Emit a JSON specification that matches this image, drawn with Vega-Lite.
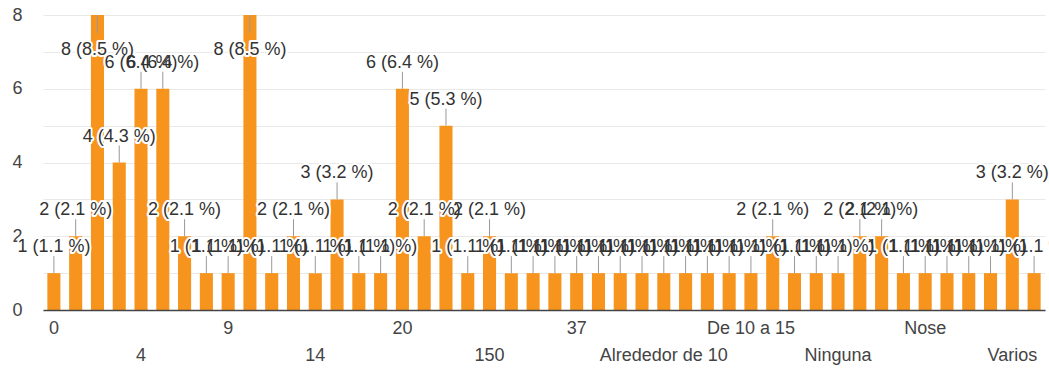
{
  "$schema": "https://vega.github.io/schema/vega-lite/v6.json",
  "autosize": {"type": "none"},
  "width": 1002,
  "height": 295,
  "padding": {"left": 43, "top": 15, "right": 4, "bottom": 60},
  "background": "white",
  "config": {
    "view": {"stroke": null},
    "font": "Liberation Sans"
  },
  "data": {
    "values": [
      {"c": "0", "n": 1}, {"c": "1", "n": 2}, {"c": "2", "n": 8}, {"c": "3", "n": 4},
      {"c": "4", "n": 6}, {"c": "5", "n": 6}, {"c": "6", "n": 2}, {"c": "7", "n": 1},
      {"c": "9", "n": 1}, {"c": "10", "n": 8}, {"c": "11", "n": 1}, {"c": "12", "n": 2},
      {"c": "14", "n": 1}, {"c": "15", "n": 3}, {"c": "16", "n": 1}, {"c": "18", "n": 1},
      {"c": "20", "n": 6}, {"c": "25", "n": 2}, {"c": "30", "n": 5}, {"c": "40", "n": 1},
      {"c": "150", "n": 2}, {"c": "2 o 3", "n": 1}, {"c": "30 aprox", "n": 1}, {"c": "35", "n": 1},
      {"c": "37", "n": 1}, {"c": "40 aprox", "n": 1}, {"c": "5 o 6", "n": 1}, {"c": "50", "n": 1},
      {"c": "Alrededor de 10", "n": 1}, {"c": "Alrededor de 20", "n": 1}, {"c": "Aproximadamente 5", "n": 1}, {"c": "Casi ninguno", "n": 1},
      {"c": "De 10 a 15", "n": 1}, {"c": "De 2 a 3", "n": 2}, {"c": "De 5 a 10", "n": 1}, {"c": "Muchos", "n": 1},
      {"c": "Ninguna", "n": 1}, {"c": "Ninguno", "n": 2}, {"c": "No lo sé", "n": 2}, {"c": "No recuerdo", "n": 1},
      {"c": "Nose", "n": 1}, {"c": "Pocos", "n": 1}, {"c": "Solo uno", "n": 1}, {"c": "Unos 10", "n": 1},
      {"c": "Varios", "n": 3}, {"c": "Ya no", "n": 1}
    ]
  },
  "transform": [
    {"calculate": "datum.n + ' (' + format(datum.n / 94 * 100, '.1f') + ' %)'", "as": "lab"}
  ],
  "encoding": {
    "x": {
      "field": "c",
      "type": "nominal",
      "sort": null,
      "scale": {"paddingInner": 0.4, "paddingOuter": 0.2},
      "axis": {
        "title": null,
        "ticks": false,
        "grid": false,
        "domain": true,
        "domainColor": "#444444",
        "domainWidth": 1.5,
        "labelAngle": 0,
        "labelAlign": "center",
        "labelBaseline": "top",
        "labelOverlap": false,
        "labelFontSize": 18,
        "labelColor": "#444444",
        "labelPadding": 9,
        "labelLineHeight": 27,
        "zindex": 1,
        "labelExpr": "indexof(['0','9','20','37','De 10 a 15','Nose'], datum.value) >= 0 ? datum.label : (indexof(['4','14','150','Alrededor de 10','Ninguna','Varios'], datum.value) >= 0 ? ['', datum.label] : '')"
      }
    },
    "y": {
      "field": "n",
      "type": "quantitative",
      "scale": {"domain": [0, 8], "nice": false},
      "axis": {
        "title": null,
        "values": [0, 1, 2, 3, 4, 5, 6, 7, 8],
        "labelExpr": "datum.value % 2 == 0 ? datum.label : ''",
        "grid": true,
        "gridColor": "#e9e9e9",
        "domain": false,
        "ticks": false,
        "labelPadding": 21,
        "labelFontSize": 18,
        "labelColor": "#444444"
      }
    }
  },
  "layer": [
    {"mark": {"type": "bar", "color": "#f7941d"}},
    {
      "transform": [{"filter": "datum.n < 8"}],
      "mark": {"type": "rule", "color": "#999999", "strokeWidth": 1, "y2Offset": -17},
      "encoding": {"y2": {"field": "n"}}
    },
    {
      "transform": [{"filter": "datum.n >= 8"}],
      "mark": {"type": "rule", "color": "#999999", "strokeWidth": 1, "y2Offset": 18},
      "encoding": {"y2": {"field": "n"}}
    },
    {
      "transform": [{"filter": "datum.n < 8"}],
      "mark": {"type": "text", "fontSize": 18, "baseline": "alphabetic", "dy": -21, "color": "white", "stroke": "white", "strokeWidth": 4, "strokeJoin": "round"},
      "encoding": {"text": {"field": "lab"}}
    },
    {
      "transform": [{"filter": "datum.n >= 8"}],
      "mark": {"type": "text", "fontSize": 18, "baseline": "alphabetic", "dy": 40, "color": "white", "stroke": "white", "strokeWidth": 4, "strokeJoin": "round"},
      "encoding": {"text": {"field": "lab"}}
    },
    {
      "transform": [{"filter": "datum.n < 8"}],
      "mark": {"type": "text", "fontSize": 18, "baseline": "alphabetic", "dy": -21, "color": "#333333"},
      "encoding": {"text": {"field": "lab"}}
    },
    {
      "transform": [{"filter": "datum.n >= 8"}],
      "mark": {"type": "text", "fontSize": 18, "baseline": "alphabetic", "dy": 40, "color": "#333333"},
      "encoding": {"text": {"field": "lab"}}
    }
  ]
}
